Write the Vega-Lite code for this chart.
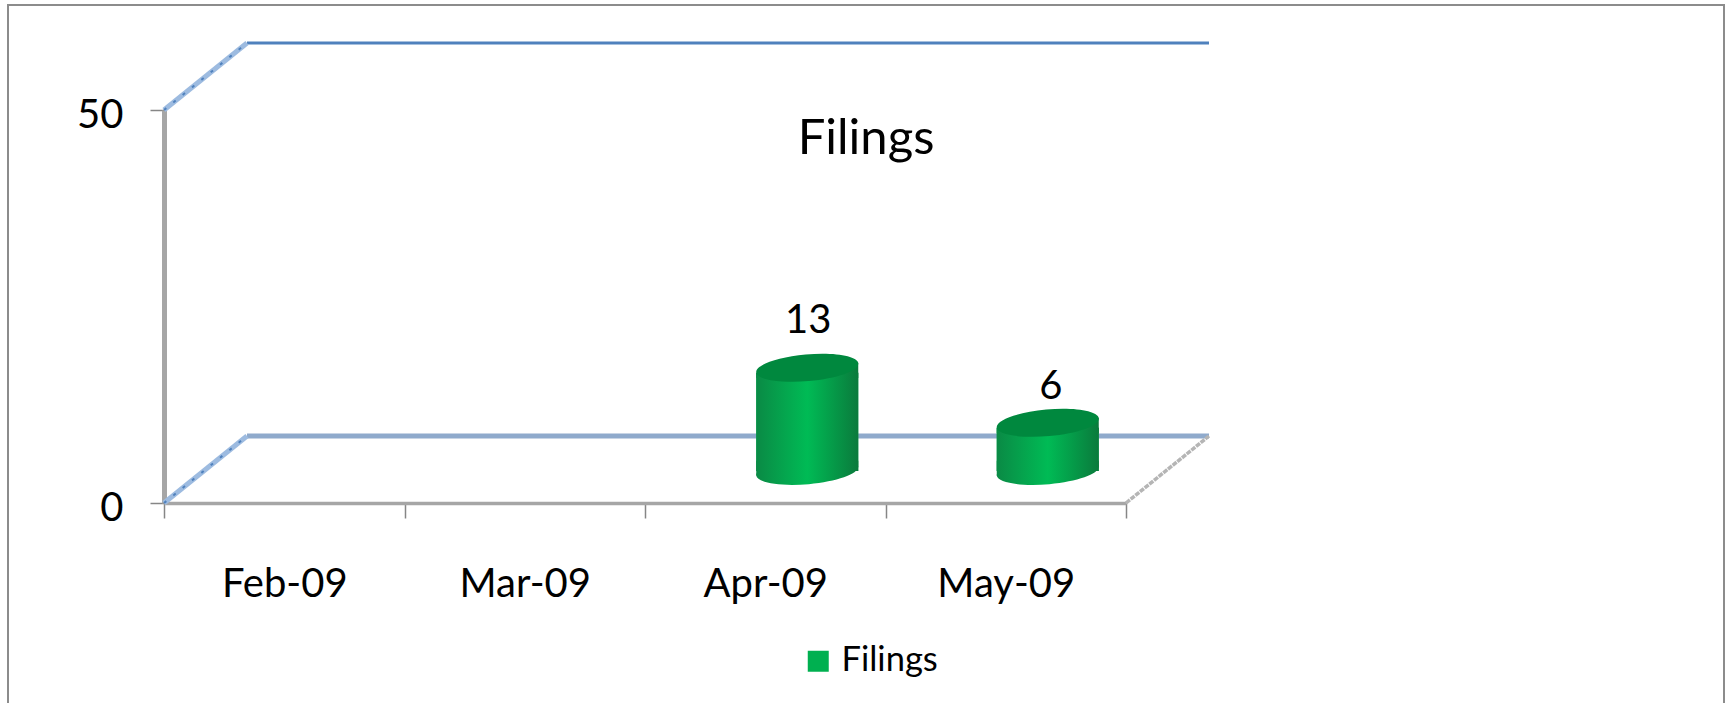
{
"$schema":"https://vega.github.io/schema/vega-lite/v6.json",
"autosize":{"type":"none"},
"padding":{"left":8,"top":5,"right":3,"bottom":-5},
"width":1716,"height":703,
"background":"white",
"config":{"font":"Lato","view":{"stroke":"#8c8c8c","strokeWidth":2},"text":{"font":"Lato"}},
"title":{"text":"Filings","font":"Lato","fontSize":49,"fontWeight":"normal","color":"black","anchor":"middle","frame":"group","orient":"top","baseline":"alphabetic","offset":-198},
"datasets":{
 "filings":[{"month":"Apr-09","filings":13,"series":"Filings"},{"month":"May-09","filings":6,"series":"Filings"}],
 "walls":[{"from":0,"to":4,"level":0},{"from":0,"to":4,"level":50}],
 "edges":[{"edge":0,"level":0,"side":"left"},{"edge":0,"level":50,"side":"left"},{"edge":4,"level":0,"side":"right"}]
},
"encoding":{"y":{"field":"filings","type":"quantitative","scale":{"domain":[0,50],"range":[498,105],"nice":false,"zero":false},
 "axis":{"title":null,"values":[0,50],"offset":-156,"grid":false,"domainColor":"#a6a6a6","domainWidth":5,"tickColor":"#868686","tickWidth":1.5,"tickSize":14,"labelFontSize":40,"labelColor":"black","labelFont":"Lato","labelPadding":27,"labelOffset":5}}},
"resolve":{"scale":{"x":"independent"}},
"layer":[
 {"data":{"name":"walls"},"transform":[{"filter":"datum.level==50"}],
  "mark":{"type":"rule","stroke":"#4f81bd","strokeWidth":3,"xOffset":83,"x2Offset":83,"yOffset":-67},
  "encoding":{"x":{"field":"from","type":"quantitative","scale":{"domain":[0,4],"range":[156,1118],"nice":false},"axis":null},"x2":{"field":"to"},"y":{"field":"level","type":"quantitative"}}},
 {"data":{"name":"walls"},"transform":[{"filter":"datum.level==0"}],
  "mark":{"type":"rule","stroke":"#8faacc","strokeWidth":5,"xOffset":83,"x2Offset":83,"yOffset":-67},
  "encoding":{"x":{"field":"from","type":"quantitative","scale":{"domain":[0,4],"range":[156,1118],"nice":false},"axis":null},"x2":{"field":"to"},"y":{"field":"level","type":"quantitative"}}},
 {"data":{"name":"edges"},"transform":[{"filter":"datum.side=='left'"}],
  "mark":{"type":"rule","stroke":"#9dbbe0","strokeWidth":5,"x2Offset":83,"y2Offset":-67},
  "encoding":{"x":{"field":"edge","type":"quantitative","scale":{"domain":[0,4],"range":[156,1118],"nice":false},"axis":null},"x2":{"field":"edge"},"y":{"field":"level","type":"quantitative"},"y2":{"field":"level"}}},
 {"data":{"name":"edges"},"transform":[{"filter":"datum.side=='left'"}],
  "mark":{"type":"rule","stroke":"#4f81bd","strokeWidth":2,"strokeDash":[3,9],"x2Offset":83,"y2Offset":-67},
  "encoding":{"x":{"field":"edge","type":"quantitative","scale":{"domain":[0,4],"range":[156,1118],"nice":false},"axis":null},"x2":{"field":"edge"},"y":{"field":"level","type":"quantitative"},"y2":{"field":"level"}}},
 {"data":{"name":"edges"},"transform":[{"filter":"datum.side=='right'"}],
  "mark":{"type":"rule","stroke":"#b5b5b5","strokeWidth":3.5,"strokeDash":[5,1],"x2Offset":83,"y2Offset":-67},
  "encoding":{"x":{"field":"edge","type":"quantitative","scale":{"domain":[0,4],"range":[156,1118],"nice":false},"axis":null},"x2":{"field":"edge"},"y":{"field":"level","type":"quantitative"},"y2":{"field":"level"}}},
 {"data":{"name":"filings"},
  "mark":{"type":"bar","width":102,"xOffset":42,"yOffset":-28,"y2Offset":-32},
  "encoding":{
   "x":{"field":"month","type":"nominal","sort":null,"scale":{"domain":["Feb-09","Mar-09","Apr-09","May-09"],"range":[156,1118],"paddingInner":0,"paddingOuter":0},
    "axis":{"title":null,"orient":"bottom","offset":-205,"labelAngle":0,"grid":false,"tickBand":"extent","domainColor":"#a6a6a6","domainWidth":3.5,"tickColor":"#868686","tickWidth":1.5,"tickSize":15,"labelFontSize":40,"labelColor":"black","labelFont":"Lato","labelPadding":66,"labelBaseline":"middle"}},
   "y":{"field":"filings","type":"quantitative","stack":null},"y2":{"datum":0},
   "color":{"field":"series","type":"nominal","scale":{"domain":["Filings"],"range":["#00b050"]},
    "legend":{"title":null,"orient":"none","legendX":793,"legendY":639,"symbolType":"square","symbolSize":441,"labelFontSize":34.5,"labelFont":"Lato","labelColor":"black","symbolStrokeWidth":0,"labelOffset":6}}}},
 {"data":{"name":"filings"},
  "mark":{"type":"point","filled":true,"opacity":1,"strokeWidth":0,"size":10404,"xOffset":42,"yOffset":-32,"shape":"M-1,0.09A1,0.26,-5,1,1,1,-0.09A1,0.26,-5,1,1,-1,0.09Z","fill":{"gradient":"linear","x1":0,"x2":1,"y1":0,"y2":0,"stops":[{"offset":0,"color":"#0a8a45"},{"offset":0.5,"color":"#00bb55"},{"offset":1,"color":"#0a7a3c"}]}},
  "encoding":{"x":{"field":"month","type":"nominal","sort":null,"scale":{"domain":["Feb-09","Mar-09","Apr-09","May-09"],"range":[156,1118],"paddingInner":0,"paddingOuter":0},"axis":null},"y":{"datum":0}}},
 {"data":{"name":"filings"},
  "mark":{"type":"point","filled":true,"opacity":1,"strokeWidth":0,"size":10404,"xOffset":42,"yOffset":-32,"shape":"M-1,-0.2L1,-0.2L1,-0.09L-1,0.09Z","fill":{"gradient":"linear","x1":0,"x2":1,"y1":0,"y2":0,"stops":[{"offset":0,"color":"#0a8a45"},{"offset":0.5,"color":"#00bb55"},{"offset":1,"color":"#0a7a3c"}]}},
  "encoding":{"x":{"field":"month","type":"nominal","sort":null,"scale":{"domain":["Feb-09","Mar-09","Apr-09","May-09"],"range":[156,1118],"paddingInner":0,"paddingOuter":0},"axis":null},"y":{"datum":0}}},
 {"data":{"name":"filings"},
  "mark":{"type":"bar","width":102,"xOffset":42,"yOffset":-28,"y2Offset":-32,"fill":{"gradient":"linear","x1":0,"x2":1,"y1":0,"y2":0,"stops":[{"offset":0,"color":"#0a8a45"},{"offset":0.5,"color":"#00bb55"},{"offset":1,"color":"#0a7a3c"}]}},
  "encoding":{"x":{"field":"month","type":"nominal","sort":null,"scale":{"domain":["Feb-09","Mar-09","Apr-09","May-09"],"range":[156,1118],"paddingInner":0,"paddingOuter":0},"axis":null},"y":{"field":"filings","type":"quantitative","stack":null},"y2":{"datum":0}}},
 {"data":{"name":"filings"},
  "mark":{"type":"point","filled":true,"opacity":1,"strokeWidth":0,"size":10404,"xOffset":42,"yOffset":-33,"shape":"M-1,0.1L1,-0.1L1,0.2L-1,0.2Z","fill":{"gradient":"linear","x1":0,"x2":1,"y1":0,"y2":0,"stops":[{"offset":0,"color":"#0a8a45"},{"offset":0.5,"color":"#00bb55"},{"offset":1,"color":"#0a7a3c"}]}},
  "encoding":{"x":{"field":"month","type":"nominal","sort":null,"scale":{"domain":["Feb-09","Mar-09","Apr-09","May-09"],"range":[156,1118],"paddingInner":0,"paddingOuter":0},"axis":null},"y":{"field":"filings","type":"quantitative"}}},
 {"data":{"name":"filings"},
  "mark":{"type":"point","filled":true,"opacity":1,"strokeWidth":0,"size":10404,"xOffset":42,"yOffset":-33,"fill":"#00883e","shape":"M-1,0.09A1,0.26,-5,1,1,1,-0.09A1,0.26,-5,1,1,-1,0.09Z"},
  "encoding":{"x":{"field":"month","type":"nominal","sort":null,"scale":{"domain":["Feb-09","Mar-09","Apr-09","May-09"],"range":[156,1118],"paddingInner":0,"paddingOuter":0},"axis":null},"y":{"field":"filings","type":"quantitative"}}},
 {"data":{"name":"filings"},"transform":[{"filter":"datum.filings==13"}],
  "mark":{"type":"text","fontSize":40,"color":"black","font":"Lato","xOffset":43,"yOffset":-80,"baseline":"middle"},
  "encoding":{"x":{"field":"month","type":"nominal","sort":null,"scale":{"domain":["Feb-09","Mar-09","Apr-09","May-09"],"range":[156,1118],"paddingInner":0,"paddingOuter":0},"axis":null},"y":{"field":"filings","type":"quantitative"},"text":{"field":"filings","type":"quantitative"}}},
 {"data":{"name":"filings"},"transform":[{"filter":"datum.filings==6"}],
  "mark":{"type":"text","fontSize":40,"color":"black","font":"Lato","xOffset":45,"yOffset":-69,"baseline":"middle"},
  "encoding":{"x":{"field":"month","type":"nominal","sort":null,"scale":{"domain":["Feb-09","Mar-09","Apr-09","May-09"],"range":[156,1118],"paddingInner":0,"paddingOuter":0},"axis":null},"y":{"field":"filings","type":"quantitative"},"text":{"field":"filings","type":"quantitative"}}}
]
}
